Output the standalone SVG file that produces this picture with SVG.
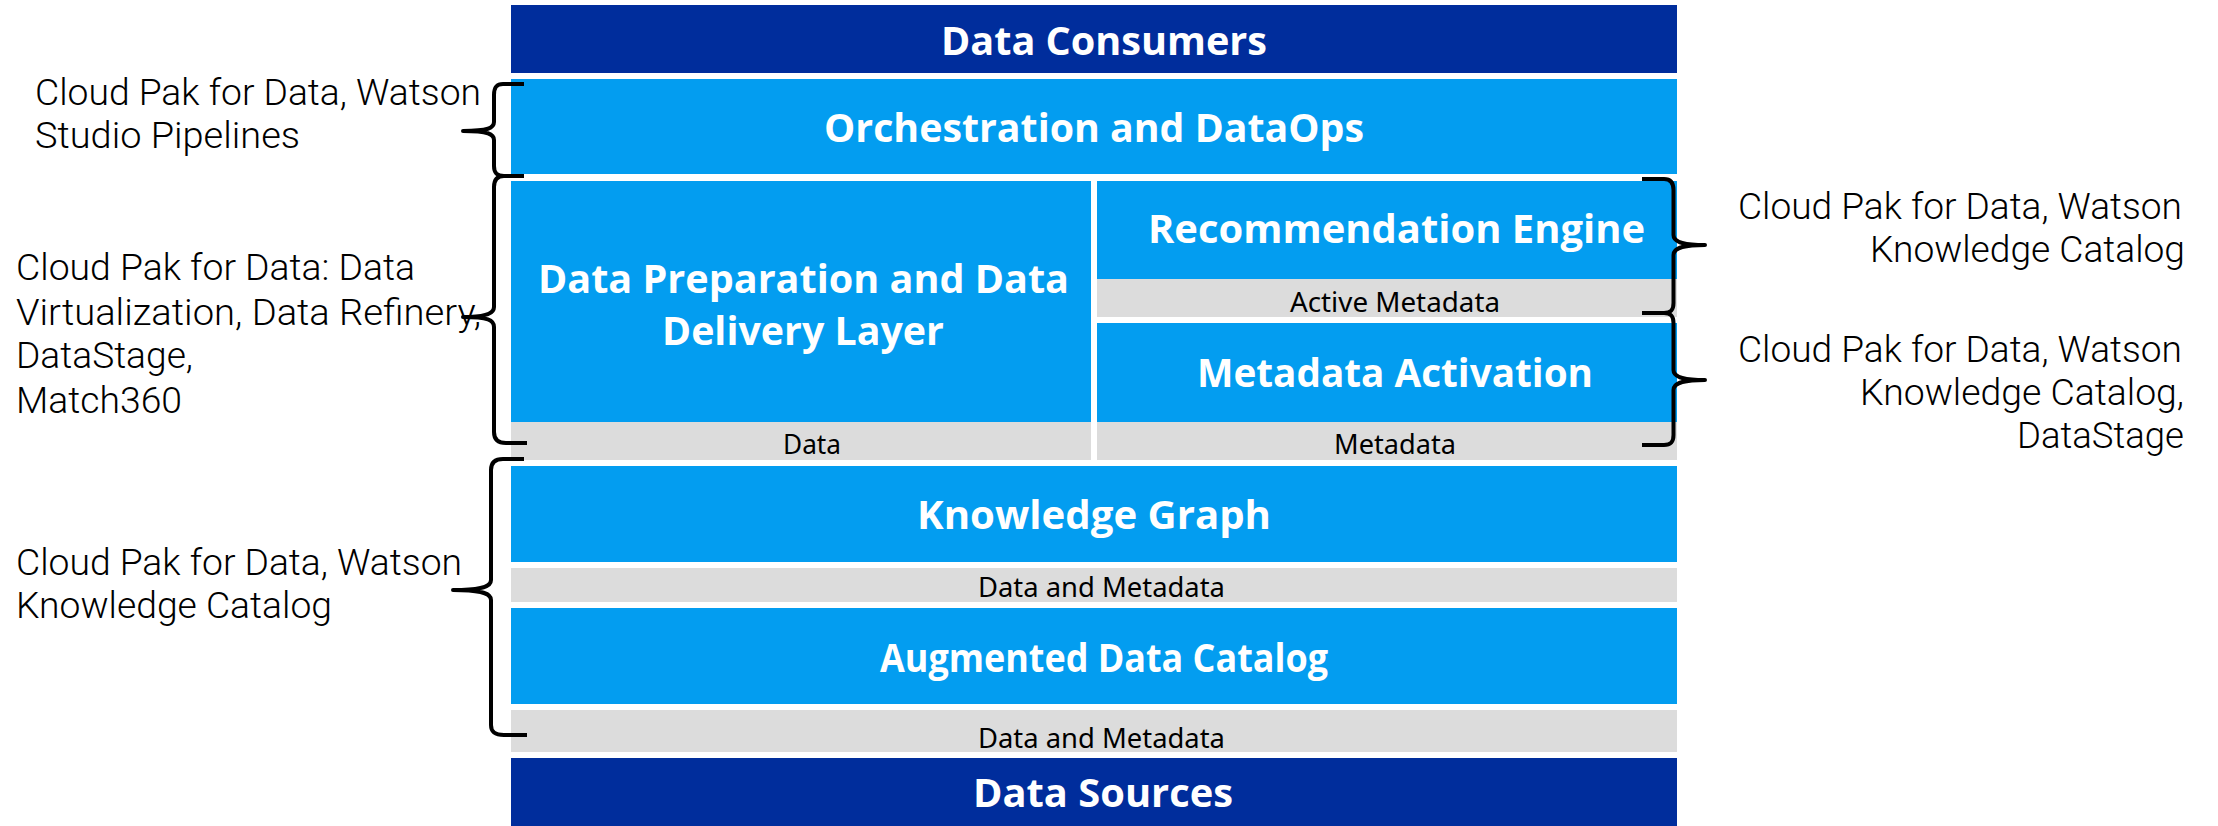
<svg xmlns="http://www.w3.org/2000/svg" width="2218" height="826" viewBox="0 0 2218 826">
<style>
.dark{fill:#002D9C}
.blue{fill:#039DF0}
.gray{fill:#DCDCDC}
.title{font-family:"Open Sans","Liberation Sans",sans-serif;font-weight:700;font-size:40px;fill:#FFFFFF;text-anchor:start}
.lbl{font-family:"Noto Sans","Liberation Sans",sans-serif;font-size:27px;fill:#000000;text-anchor:start}
.desc{font-family:Roboto,"Liberation Sans",sans-serif;font-weight:300;font-size:37px;fill:#000000;text-anchor:start}
.brace{fill:none;stroke:#000000;stroke-width:4;stroke-linecap:butt;stroke-linejoin:round}
</style>
<rect width="2218" height="826" fill="#FFFFFF"/>
<g id="data-consumers">
<rect class="dark" x="511" y="5" width="1166" height="68"/>
<text class="title" x="941" y="55" textLength="326" lengthAdjust="spacingAndGlyphs">Data Consumers</text>
</g>
<g id="orchestration">
<rect class="blue" x="511" y="79" width="1166" height="95"/>
<text class="title" x="824" y="142" textLength="540" lengthAdjust="spacingAndGlyphs">Orchestration and DataOps</text>
</g>
<g id="data-preparation">
<rect class="blue" x="511" y="181" width="580" height="241"/>
<text class="title" x="538" y="293" textLength="531" lengthAdjust="spacingAndGlyphs">Data Preparation and Data</text>
<text class="title" x="662" y="345" textLength="282" lengthAdjust="spacingAndGlyphs">Delivery Layer</text>
</g>
<g id="data-label">
<rect class="gray" x="511" y="422" width="580" height="38"/>
<text class="lbl" x="783" y="454" textLength="58" lengthAdjust="spacingAndGlyphs">Data</text>
</g>
<g id="recommendation-engine">
<rect class="blue" x="1097" y="181" width="580" height="98"/>
<text class="title" x="1148" y="243" textLength="497" lengthAdjust="spacingAndGlyphs">Recommendation Engine</text>
</g>
<g id="active-metadata">
<rect class="gray" x="1097" y="279" width="580" height="38"/>
<text class="lbl" x="1290" y="312" textLength="210" lengthAdjust="spacingAndGlyphs">Active Metadata</text>
</g>
<g id="metadata-activation">
<rect class="blue" x="1097" y="323" width="580" height="99"/>
<text class="title" x="1197" y="387" textLength="396" lengthAdjust="spacingAndGlyphs">Metadata Activation</text>
</g>
<g id="metadata-label">
<rect class="gray" x="1097" y="422" width="580" height="38"/>
<text class="lbl" x="1334" y="454" textLength="122" lengthAdjust="spacingAndGlyphs">Metadata</text>
</g>
<g id="knowledge-graph">
<rect class="blue" x="511" y="466" width="1166" height="96"/>
<text class="title" x="917" y="529" textLength="354" lengthAdjust="spacingAndGlyphs">Knowledge Graph</text>
</g>
<g id="data-and-metadata-1">
<rect class="gray" x="511" y="568" width="1166" height="34"/>
<text class="lbl" x="978" y="597" textLength="247" lengthAdjust="spacingAndGlyphs">Data and Metadata</text>
</g>
<g id="augmented-data-catalog">
<rect class="blue" x="511" y="608" width="1166" height="96"/>
<text class="title" x="880" y="672" textLength="448" lengthAdjust="spacingAndGlyphs">Augmented Data Catalog</text>
</g>
<g id="data-and-metadata-2">
<rect class="gray" x="511" y="710" width="1166" height="42"/>
<text class="lbl" x="978" y="748" textLength="247" lengthAdjust="spacingAndGlyphs">Data and Metadata</text>
</g>
<g id="data-sources">
<rect class="dark" x="511" y="758" width="1166" height="68"/>
<text class="title" x="973" y="807" textLength="260" lengthAdjust="spacingAndGlyphs">Data Sources</text>
</g>
<g id="note-orchestration">
<text class="desc" x="35" y="105" textLength="446" lengthAdjust="spacingAndGlyphs">Cloud Pak for Data, Watson</text>
<text class="desc" x="35" y="148" textLength="265" lengthAdjust="spacingAndGlyphs">Studio Pipelines</text>
</g>
<g id="note-preparation">
<text class="desc" x="16" y="280" textLength="399" lengthAdjust="spacingAndGlyphs">Cloud Pak for Data: Data</text>
<text class="desc" x="16" y="325" textLength="465" lengthAdjust="spacingAndGlyphs">Virtualization, Data Refinery,</text>
<text class="desc" x="16" y="368" textLength="177" lengthAdjust="spacingAndGlyphs">DataStage,</text>
<text class="desc" x="16" y="413" textLength="166" lengthAdjust="spacingAndGlyphs">Match360</text>
</g>
<g id="note-catalog">
<text class="desc" x="16" y="575" textLength="446" lengthAdjust="spacingAndGlyphs">Cloud Pak for Data, Watson</text>
<text class="desc" x="16" y="618" textLength="316" lengthAdjust="spacingAndGlyphs">Knowledge Catalog</text>
</g>
<g id="note-recommendation">
<text class="desc" x="1738" y="219" textLength="444" lengthAdjust="spacingAndGlyphs">Cloud Pak for Data, Watson</text>
<text class="desc" x="1870" y="262" textLength="315" lengthAdjust="spacingAndGlyphs">Knowledge Catalog</text>
</g>
<g id="note-activation">
<text class="desc" x="1738" y="362" textLength="444" lengthAdjust="spacingAndGlyphs">Cloud Pak for Data, Watson</text>
<text class="desc" x="1860" y="405" textLength="324" lengthAdjust="spacingAndGlyphs">Knowledge Catalog,</text>
<text class="desc" x="2017" y="448" textLength="167" lengthAdjust="spacingAndGlyphs">DataStage</text>
</g>
<g id="connectors">
<path class="brace" d="M524,84 L503,84 C496,84 494,88 494,95 L494,122 C494,128 488,131 463,131 C488,131 494,134 494,140 L494,166 C494,173 497,176 504,176 L524,176"/>
<path class="brace" d="M524,176 L504,176 C497,176 494,180 494,187 L494,307 C494,313 488,317 463,317 C488,317 494,320 494,327 L494,432 C494,439 498,443 506,443 L527,443"/>
<path class="brace" d="M524,459 L503,459 C495,459 491,463 491,470 L491,580 C491,586 484,590 453,590 C484,590 491,594 491,600 L491,725 C491,732 495,735 504,735 L527,735"/>
<path class="brace" d="M1642,179 L1664,179 C1671,179 1673.5,183 1673.5,190 L1673.5,235 C1673.5,241 1680,245 1705,245 C1680,245 1673.5,249 1673.5,255 L1673.5,303 C1673.5,310 1671,313 1664,313 L1642,313"/>
<path class="brace" d="M1642,313 L1664,313 C1671,313 1673.5,316 1673.5,323 L1673.5,370 C1673.5,376 1680,380 1705,380 C1680,380 1673.5,384 1673.5,390 L1673.5,435 C1673.5,442 1671,445 1664,445 L1642,445"/>
</g>
</svg>
